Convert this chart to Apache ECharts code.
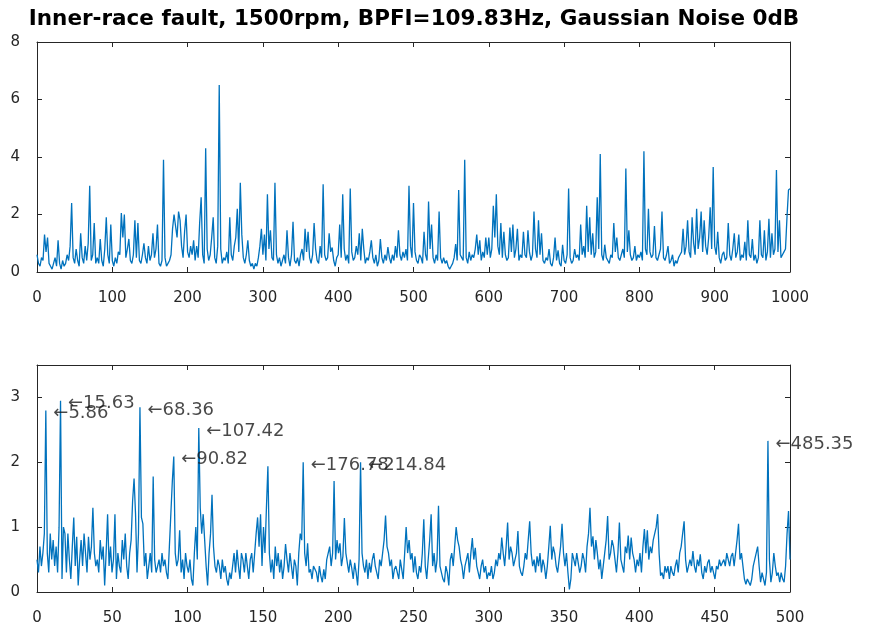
<!DOCTYPE html>
<html><head><meta charset="utf-8">
<script src="https://cdn.jsdelivr.net/npm/echarts@6/dist/echarts.min.js"></script>
<style>html,body{margin:0;padding:0;background:#fff}#c{width:872px;height:626px}</style>
</head><body><div id="c"></div>
<script>
const titleText = 'Inner-race fault, 1500rpm, BPFI=109.83Hz, Gaussian Noise 0dB';

// Top subplot: signal sampled every 2 index units (x = 0..1000)
const topStep = 2;
const topSignal = [
0.6,0.3,0.2,0.5,0.4,1.3,0.7,1.2,0.3,0.2,
0.1,0.3,0.5,0.2,1.1,0.3,0.1,0.4,0.2,0.3,
0.6,0.4,0.9,2.4,0.5,0.3,0.8,0.4,0.2,1.35,
0.5,0.3,0.9,0.4,1.0,3.0,0.4,0.6,1.7,0.3,
0.5,0.3,1.15,0.4,0.2,0.8,1.9,0.6,0.3,1.65,
0.4,0.2,0.5,0.3,0.7,0.6,2.05,1.2,2.0,0.5,
0.8,1.15,0.4,0.3,0.6,1.8,0.5,1.7,0.4,0.3,
0.6,1.0,0.5,0.3,0.9,0.4,0.6,1.35,0.5,0.8,
1.65,0.3,0.2,0.4,3.9,0.5,0.2,0.3,0.4,0.6,
1.5,2.0,1.6,1.2,2.1,1.8,0.9,0.5,1.4,2.0,
0.7,0.5,0.9,0.6,1.1,0.4,0.9,0.5,1.7,2.6,
0.6,0.3,4.3,0.8,0.4,0.6,1.2,1.9,0.5,0.3,
0.9,6.5,0.8,0.3,0.5,0.4,0.7,0.3,1.9,0.6,
0.4,0.9,1.2,2.2,0.7,3.1,1.3,0.5,0.3,0.6,
1.1,0.4,0.2,0.3,0.1,0.3,0.2,0.5,0.9,1.5,
0.6,1.3,0.4,2.7,0.8,1.45,0.5,0.4,3.1,0.6,
0.3,0.5,0.2,0.4,0.6,0.3,1.45,0.5,0.2,0.6,
1.75,0.4,0.3,0.5,0.2,0.6,0.8,0.4,1.5,0.7,
1.4,0.5,0.3,0.6,1.7,0.8,0.4,0.3,0.9,0.5,
3.05,0.6,0.4,0.5,1.35,0.7,0.85,0.4,0.2,0.5,
0.6,1.65,0.5,2.7,0.8,0.4,0.6,0.3,2.9,0.7,
0.4,0.5,0.9,0.6,1.35,0.4,1.5,0.8,0.3,0.5,
0.4,0.7,1.1,0.5,0.3,0.6,0.2,0.4,1.15,0.5,
0.3,0.6,0.4,0.87,0.5,0.3,0.6,0.4,0.9,0.5,
1.45,0.6,0.4,0.7,0.5,0.8,0.4,3.0,0.9,0.5,
2.4,0.7,0.4,0.3,0.6,0.5,0.3,1.4,0.6,0.4,
2.45,0.8,1.65,0.5,0.3,0.6,0.4,2.1,0.5,0.3,
0.5,0.3,0.4,0.2,0.1,0.2,0.3,0.5,0.97,0.4,
2.85,0.6,0.5,0.4,3.9,0.5,0.3,0.7,0.4,0.6,
0.5,0.8,1.3,0.6,1.1,0.4,0.7,0.5,1.2,0.6,
1.2,0.5,0.8,2.3,1.2,2.7,0.9,0.6,1.7,0.5,
1.4,0.6,0.4,0.5,1.55,0.7,1.65,0.5,0.8,1.5,
0.4,0.6,0.5,1.4,0.6,0.5,1.45,0.7,0.4,0.6,
2.1,0.8,0.5,1.8,0.6,1.35,0.4,0.3,0.5,0.4,
0.8,0.3,0.2,0.5,1.2,0.4,0.75,0.3,0.2,0.95,
0.4,0.3,0.6,2.9,0.5,0.3,0.4,0.8,0.5,0.6,
0.4,1.65,0.6,0.9,0.5,2.3,0.7,1.9,0.6,1.35,
0.5,0.7,2.6,0.8,4.1,0.6,0.4,0.95,0.5,0.4,
0.3,0.6,0.5,1.7,0.7,1.2,0.5,0.4,0.6,0.8,
0.5,3.6,0.7,1.45,0.6,0.4,0.5,0.9,0.4,0.6,
0.5,0.7,0.4,4.2,0.8,0.6,2.2,0.7,0.5,0.6,
1.6,0.5,0.4,0.6,0.8,2.1,0.5,0.4,0.6,0.9,
0.3,0.4,0.6,0.2,0.4,0.3,0.5,0.6,0.7,1.5,
0.6,0.9,1.8,0.7,0.5,1.9,1.0,0.6,2.2,0.8,
1.2,2.1,0.7,1.8,0.9,0.6,1.2,2.25,0.8,3.65,
0.9,0.6,1.4,0.5,0.3,0.6,0.7,0.4,0.5,1.7,
0.6,0.4,0.8,1.35,0.5,0.7,1.3,0.4,0.6,0.5,
1.05,0.4,1.8,0.6,0.5,1.15,0.4,0.6,0.3,0.5,
1.8,0.6,0.5,1.45,0.4,0.7,1.85,0.5,1.35,0.6,
0.8,3.55,0.7,1.8,0.5,0.6,0.7,0.8,1.9,2.85,
2.9
];
const topXTicks = [0,100,200,300,400,500,600,700,800,900,1000];
const topYTicks = [0,2,4,6,8];

// Bottom subplot: spectrum bins, resolution 1000/1024 Hz
const specRes = 1000 / 1024;
const specAmp = [
0.5,0.3,0.7,0.4,0.6,0.9,2.8,0.6,0.3,0.9,
0.5,0.8,0.4,0.7,0.3,1.0,2.95,0.2,1.0,0.9,
0.3,0.9,0.5,0.2,0.7,1.15,0.4,0.85,0.1,0.5,
0.8,0.4,0.9,0.6,0.3,0.85,0.5,0.7,1.3,0.6,
0.4,0.5,0.3,0.8,0.5,0.7,0.1,0.6,1.2,0.4,
0.7,0.3,0.5,1.2,0.2,0.6,0.4,0.3,0.8,0.5,
0.9,0.4,0.2,0.6,0.8,1.4,1.75,1.2,0.3,0.9,
2.85,1.15,1.05,0.4,0.6,0.2,0.4,0.6,0.3,1.78,
0.5,0.3,0.4,0.5,0.3,0.6,0.4,0.5,0.3,0.2,
0.7,1.2,1.7,2.09,0.6,0.4,0.5,0.95,0.3,0.5,
0.2,0.6,0.4,0.3,0.5,0.2,0.1,0.6,1.0,0.5,
2.53,1.3,0.9,1.2,0.8,0.4,0.1,0.6,0.9,1.5,
0.7,0.4,0.3,0.5,0.4,0.2,0.5,0.3,0.4,0.2,
0.1,0.3,0.2,0.4,0.6,0.3,0.65,0.4,0.2,0.6,
0.5,0.3,0.6,0.4,0.2,0.5,0.6,0.3,0.6,0.9,
1.15,0.7,1.2,0.4,1.0,0.6,1.3,1.94,0.6,0.3,
0.5,0.2,0.7,0.4,0.6,0.3,0.5,0.2,0.4,0.74,
0.5,0.3,0.6,0.4,0.2,0.5,0.4,0.1,0.6,0.9,
0.8,2.0,0.6,0.4,0.75,0.3,0.35,0.2,0.4,0.35,
0.3,0.15,0.4,0.25,0.15,0.35,0.2,0.5,0.6,0.7,
0.4,0.6,1.71,0.5,0.8,0.6,0.75,0.4,0.55,1.14,
0.6,0.45,0.3,0.5,0.37,0.2,0.45,0.3,0.1,0.5,
2.0,0.6,0.4,0.3,0.5,0.2,0.45,0.3,0.5,0.6,
0.4,0.3,0.2,0.5,0.4,0.6,0.8,1.18,0.7,0.6,
0.4,0.5,0.2,0.35,0.4,0.3,0.2,0.5,0.35,0.2,
0.6,1.0,0.6,0.8,0.5,0.6,0.3,0.55,0.3,0.2,
0.4,0.3,0.6,1.12,0.4,0.2,0.5,0.8,1.2,0.4,
0.6,0.3,0.5,1.33,0.4,0.3,0.2,0.15,0.4,0.3,
0.1,0.5,0.6,0.4,0.7,1.0,0.8,0.7,0.5,0.4,
0.2,0.4,0.5,0.6,0.3,0.6,0.83,0.5,0.68,0.4,
0.3,0.2,0.4,0.5,0.3,0.4,0.2,0.3,0.25,0.4,
0.2,0.3,0.5,0.4,0.6,0.5,0.84,0.6,0.4,0.7,
1.07,0.5,0.7,0.6,0.4,0.5,0.6,0.94,0.4,0.3,
0.25,0.4,0.6,0.5,0.8,1.09,0.6,0.4,0.5,0.3,
0.55,0.4,0.6,0.3,0.5,0.4,0.2,0.4,0.7,1.02,
0.5,0.7,0.6,0.4,0.3,0.5,0.7,1.05,0.6,0.4,
0.6,0.3,0.04,0.2,0.6,0.5,0.4,0.6,0.45,0.3,
0.4,0.6,0.5,0.3,0.7,0.9,1.3,0.7,0.86,0.5,
0.8,0.6,0.35,0.5,0.2,0.4,0.6,0.8,1.17,0.5,
0.6,0.8,0.7,0.5,0.3,0.6,1.07,0.5,0.4,0.3,
0.7,0.6,0.87,0.5,0.84,0.6,0.5,0.3,0.5,0.4,
0.6,0.3,0.7,0.97,0.6,0.95,0.5,0.7,0.6,0.8,
0.9,1.0,1.2,0.6,0.25,0.3,0.2,0.4,0.3,0.4,
0.2,0.4,0.3,0.25,0.4,0.5,0.3,0.6,0.7,0.9,
1.09,0.5,0.3,0.4,0.5,0.4,0.63,0.4,0.3,0.5,
0.4,0.58,0.3,0.2,0.4,0.3,0.45,0.5,0.3,0.4,
0.3,0.2,0.4,0.35,0.5,0.4,0.37,0.5,0.4,0.6,
0.5,0.4,0.55,0.6,0.4,0.6,0.8,1.05,0.5,0.6,
0.4,0.2,0.12,0.2,0.15,0.1,0.2,0.4,0.5,0.6,
0.7,0.4,0.15,0.3,0.2,0.1,0.3,2.33,0.5,0.15,
0.3,0.6,0.4,0.25,0.3,0.15,0.3,0.2,0.15,0.4,
0.9,1.25,0.5
];
const botXTicks = [0,50,100,150,200,250,300,350,400,450,500];
const botYTicks = [0,1,2,3];
const botYMax = 3.5;

// Peak annotations
const peakFreqs = [5.86, 15.63, 68.36, 90.82, 107.42, 176.78, 214.84, 485.35];
const peakAmps  = [2.8, 2.95, 2.85, 2.09, 2.53, 2.0, 2.0, 2.33];

const AX = '#262626';
const FONT = 'DejaVu Sans';
const LINE = '#0072BD';

function axisBase(gridIndex, pos, min, max, interval, showLabel, margin) {
  return {
    type: 'value', gridIndex: gridIndex, position: pos,
    min: min, max: max, interval: interval,
    axisLine: {show: true, onZero: false, lineStyle: {color: AX, width: 1}},
    axisTick: {show: true, inside: true, length: 5, lineStyle: {color: AX, width: 1}},
    axisLabel: {show: showLabel, color: AX, fontSize: 15, fontFamily: FONT, margin: margin,
                formatter: v => String(v)},
    splitLine: {show: false}
  };
}

const tx = [topXTicks[0], topXTicks[topXTicks.length-1], topXTicks[1]-topXTicks[0]];
const ty = [topYTicks[0], topYTicks[topYTicks.length-1], topYTicks[1]-topYTicks[0]];
const bx = [botXTicks[0], botXTicks[botXTicks.length-1], botXTicks[1]-botXTicks[0]];
const by = [botYTicks[0], botYMax, botYTicks[1]-botYTicks[0]];
const hideMax = v => (v > botYTicks[botYTicks.length-1] ? '' : String(v));

const option = {
  animation: false,
  backgroundColor: '#fff',
  title: {
    text: titleText, left: 414, top: 8, textAlign: 'center', padding: 0,
    textStyle: {fontFamily: FONT, fontWeight: 'bold', fontSize: 21.5, color: '#000'}
  },
  grid: [
    {left: 37, top: 42, width: 753, height: 230},
    {left: 37, top: 365, width: 753, height: 228}
  ],
  xAxis: [
    axisBase(0, 'bottom', tx[0], tx[1], tx[2], true, 19),
    axisBase(0, 'top', tx[0], tx[1], tx[2], false, 19),
    axisBase(1, 'bottom', bx[0], bx[1], bx[2], true, 19),
    axisBase(1, 'top', bx[0], bx[1], bx[2], false, 19)
  ],
  yAxis: [
    axisBase(0, 'left', ty[0], ty[1], ty[2], true, 17),
    axisBase(0, 'right', ty[0], ty[1], ty[2], false, 17),
    axisBase(1, 'left', by[0], by[1], by[2], true, 17),
    axisBase(1, 'right', by[0], by[1], by[2], false, 17)
  ],
  series: [
    {
      type: 'line', xAxisIndex: 0, yAxisIndex: 0, showSymbol: false, symbol: 'none',
      lineStyle: {color: LINE, width: 1.3}, clip: true,
      data: topSignal.map((v, i) => [i * topStep, v])
    },
    {
      type: 'line', xAxisIndex: 2, yAxisIndex: 2, showSymbol: false, symbol: 'none',
      lineStyle: {color: LINE, width: 1.3}, clip: true,
      data: specAmp.map((v, k) => [k * specRes, v])
    },
    {
      type: 'scatter', xAxisIndex: 2, yAxisIndex: 2, symbol: 'circle', symbolSize: 1,
      itemStyle: {color: 'rgba(0,0,0,0)'}, z: 10,
      label: {
        show: true, position: 'right', distance: 7, offset: [0, 3],
        fontFamily: FONT, fontSize: 18, color: '#1a1a1a',
        formatter: p => '\u2190' + p.value[0].toFixed(2)
      },
      data: peakFreqs.map((f, i) => [f, peakAmps[i]])
    }
  ]
};
option.yAxis[2].axisLabel.formatter = hideMax;

const chart = echarts.init(document.getElementById('c'), null, {renderer: 'canvas'});
chart.setOption(option);
</script>
</body></html>
